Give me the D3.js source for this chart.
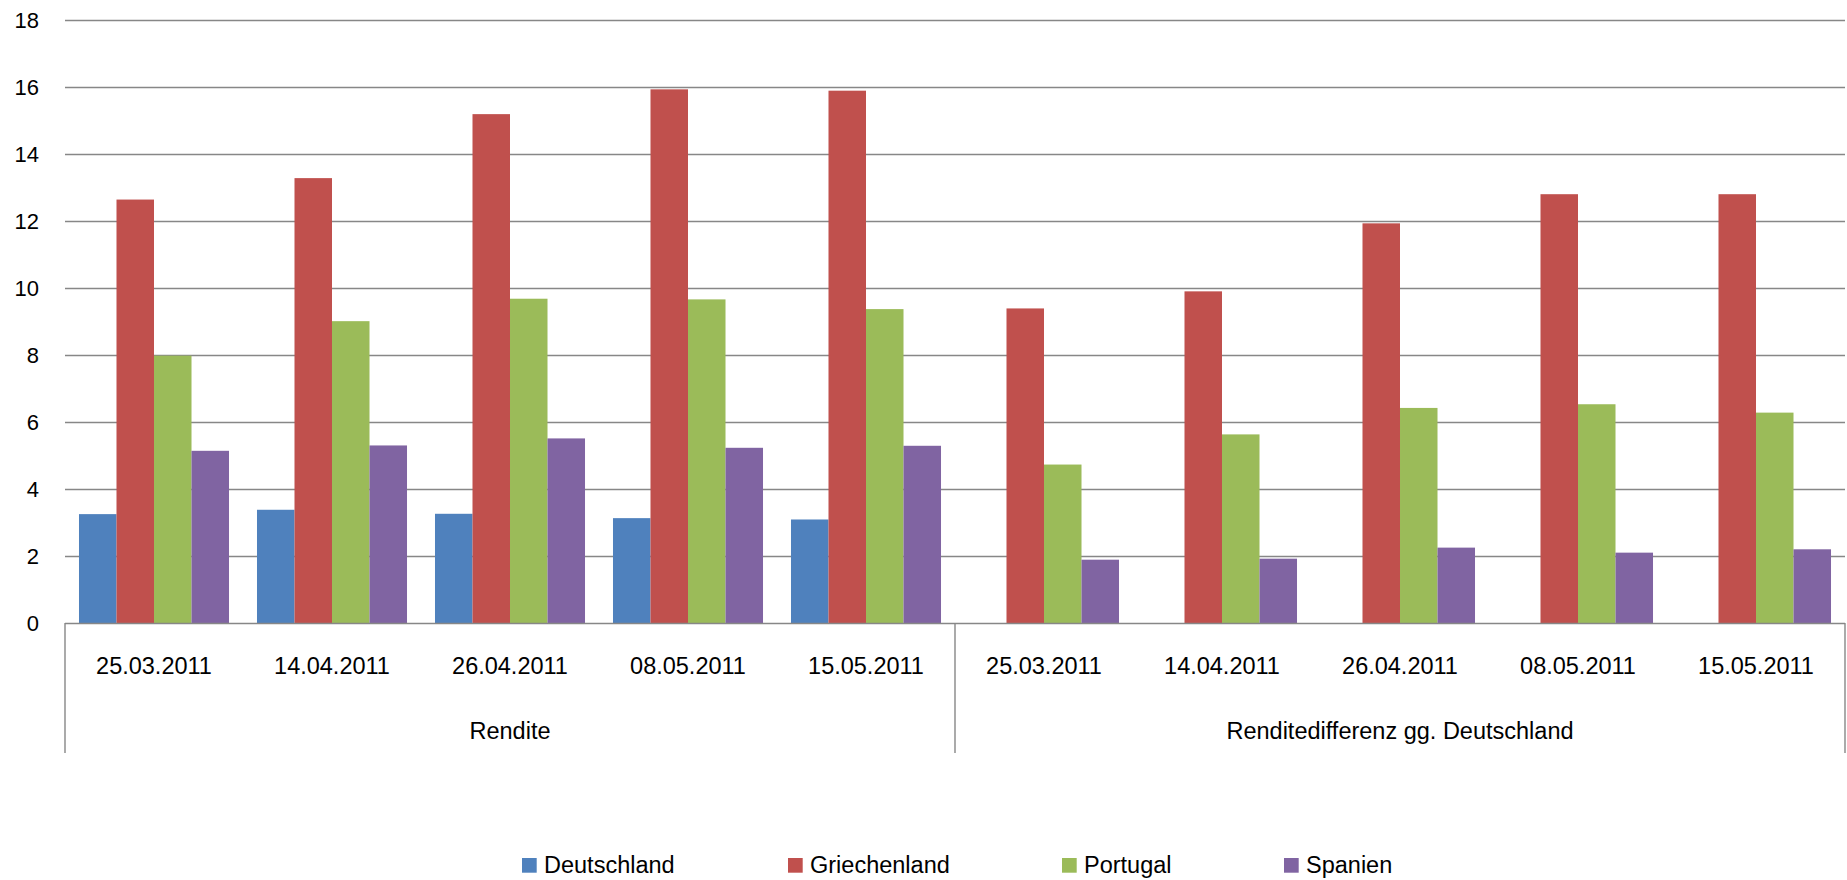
<!DOCTYPE html>
<html><head><meta charset="utf-8">
<script src="https://cdn.jsdelivr.net/npm/d3@7"></script>
<style>
html,body{margin:0;padding:0;background:#fff;}
svg{display:block;font-family:"Liberation Sans",Arial,sans-serif;}
</style></head>
<body>
<svg id="chart" width="1847" height="880"></svg>
<script>
const dates = ["25.03.2011","14.04.2011","26.04.2011","08.05.2011","15.05.2011"];
const groups = ["Rendite","Renditedifferenz gg. Deutschland"];
const seriesNames = ["Deutschland","Griechenland","Portugal","Spanien"];
const seriesColors = ["#4F81BD","#C0504D","#9BBB59","#8064A2"];
const deutschland  = [3.25, 3.38, 3.26, 3.13, 3.09,  0, 0, 0, 0, 0];
const griechenland = [12.64, 13.28, 15.19, 15.93, 15.89,  9.39, 9.90, 11.93, 12.80, 12.80];
const portugal     = [7.98, 9.01, 9.68, 9.66, 9.37,  4.73, 5.63, 6.42, 6.53, 6.28];
const spanien      = [5.14, 5.30, 5.51, 5.23, 5.29,  1.89, 1.92, 2.25, 2.10, 2.20];
const yTicks = [0,2,4,6,8,10,12,14,16,18];

const seriesValues = [deutschland, griechenland, portugal, spanien];
const cats = [];
groups.forEach((g,gi)=>dates.forEach((d,di)=>cats.push({key:gi+"|"+di, date:d, group:g, gi})));

const svg = d3.select("#chart");
const plotLeft = 65, plotRight = 1845, plotTop = 20, plotBottom = 623;

const x0 = d3.scaleBand().domain(cats.map(c=>c.key)).range([plotLeft,plotRight]).padding(0);
const x1 = d3.scaleBand().domain(seriesNames).range([0,x0.bandwidth()]).paddingInner(0).paddingOuter(0.373);
const y = d3.scaleLinear().domain([0,18]).range([plotBottom,plotTop]);

// gridlines
svg.append("g").selectAll("line").data(yTicks.filter(t=>t>0)).join("line")
  .attr("x1",plotLeft).attr("x2",plotRight)
  .attr("y1",d=>Math.round(y(d))+0.5).attr("y2",d=>Math.round(y(d))+0.5)
  .attr("stroke","#878787").attr("stroke-width",1.4);

// y axis labels
const yAxis = d3.axisLeft(y).tickValues(yTicks).tickSize(0).tickPadding(0);
const yg = svg.append("g").attr("transform",`translate(39,0)`).call(yAxis);
yg.select(".domain").remove();
yg.selectAll("text").attr("font-size",22).attr("fill","#000")
  .attr("font-family","'Liberation Sans',Arial,sans-serif").attr("dy","0.36em");

// bars
const bars = svg.append("g");
seriesNames.forEach((s,si)=>{
  bars.append("g").selectAll("rect").data(seriesValues[si]).join("rect")
    .attr("x",(d,i)=>x0(cats[i].key)+x1(s))
    .attr("width",x1.bandwidth())
    .attr("y",d=>y(d))
    .attr("height",d=>plotBottom-y(d))
    .attr("fill",seriesColors[si]);
});

// category axis
const ax = svg.append("g").attr("stroke","#878787").attr("stroke-width",1.4);
ax.append("line").attr("x1",plotLeft).attr("x2",plotRight).attr("y1",plotBottom+0.5).attr("y2",plotBottom+0.5);
[plotLeft, x0(cats[5].key), plotRight].forEach(xp=>{
  ax.append("line").attr("x1",xp).attr("x2",xp).attr("y1",plotBottom).attr("y2",753);
});

// date labels
svg.append("g").selectAll("text").data(cats).join("text")
  .attr("x",d=>x0(d.key)+x0.bandwidth()/2).attr("y",674)
  .attr("text-anchor","middle").attr("font-size",23.5).attr("fill","#000")
  .text(d=>d.date);

// group labels
svg.append("g").selectAll("text").data(groups).join("text")
  .attr("x",(g,gi)=>{const a=x0(cats[gi*5].key), b=x0(cats[gi*5+4].key)+x0.bandwidth(); return (a+b)/2;})
  .attr("y",739)
  .attr("text-anchor","middle").attr("font-size",23.5).attr("fill","#000")
  .text(d=>d);

// legend
const legendX = [522, 788, 1062, 1284];
const lg = svg.append("g");
seriesNames.forEach((s,si)=>{
  lg.append("rect").attr("x",legendX[si]).attr("y",858).attr("width",14.7).attr("height",14.7).attr("fill",seriesColors[si]);
  lg.append("text").attr("x",legendX[si]+22).attr("y",872.5).attr("font-size",23.5).attr("fill","#000").text(s);
});
</script>
</body></html>
